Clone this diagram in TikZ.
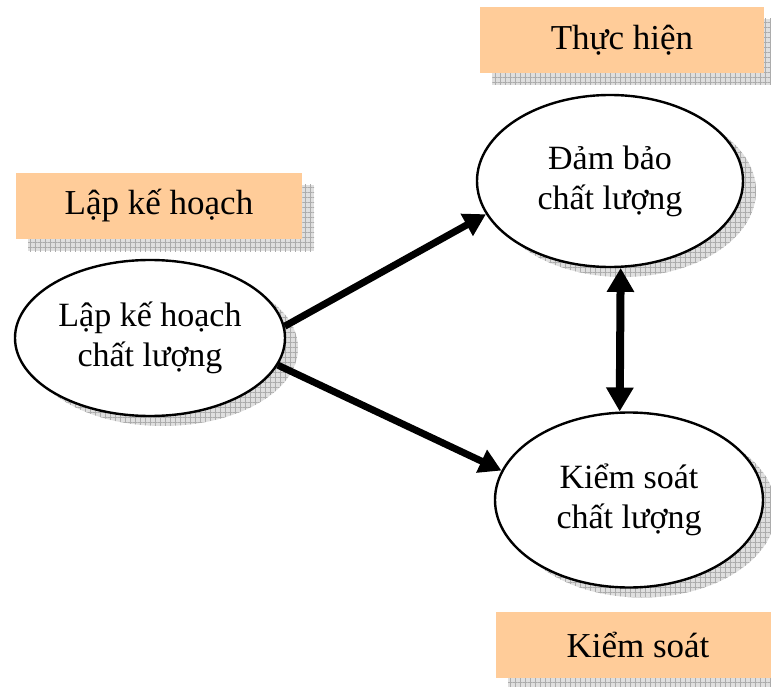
\documentclass[tikz,border=0pt]{standalone}
\usepackage{fontspec}
\setmainfont{Liberation Serif}
\usetikzlibrary{arrows.meta,shadows,patterns.meta,shapes.geometric}
\definecolor{peach}{RGB}{255,204,153}
\tikzset{
  gridshadow/.style={general shadow={shadow xshift=#1, shadow yshift=-#1,
      fill=gray!25, draw=none,
      postaction={pattern={Hatch[angle=0,distance=5pt,line width=0.5pt]},
                  pattern color=gray!65}}},
  phase/.style={rectangle, fill=peach, draw=none, inner sep=0pt,
      minimum width=284pt, minimum height=66pt,
      font=\fontsize{35}{40}\selectfont, gridshadow=12pt},
  stage/.style={ellipse, draw=black, line width=2.4pt, fill=white, inner sep=0pt,
      align=center, font=\fontsize{34}{40}\selectfont,
      general shadow={shadow xshift=13pt, shadow yshift=-10pt,
      fill=gray!25, draw=none,
      postaction={pattern={Hatch[angle=0,distance=5pt,line width=0.5pt]},
                  pattern color=gray!65}}},
  flow/.style={line width=7pt, -{Triangle[length=22pt,width=24pt]}},
  twoway/.style={line width=8pt,
      {Triangle[length=24pt,width=26pt]}-{Triangle[length=24pt,width=26pt]}}
}
\begin{document}
\begin{tikzpicture}[x=1pt,y=-1pt]
  \useasboundingbox (0,0) rectangle (771,687);
  \clip (0,0) rectangle (771,687);

  % phase labels
  \node[phase, minimum width=286pt] (plan) at (159,206) {Lập kế hoạch};
  \node[phase] (do) at (622,40) {Thực hiện};
  \node[phase] (check) at (638,645) {Kiểm soát};

  % process stages
  \node[stage, minimum width=270pt, minimum height=156pt] (qp) at (150,338)
    {Lập kế hoạch\\chất lượng};
  \node[stage, minimum width=266pt, minimum height=172pt] (qa) at (610,181)
    {Đảm bảo\\chất lượng};
  \node[stage, minimum width=268pt, minimum height=175pt] (qc) at (629,500)
    {Kiểm soát\\chất lượng};

  % connectors
  \draw[flow] (qp.5) -- (qa.195);
  \draw[flow] (qp.-12) -- (qc.167);
  \draw[twoway] (qa.-83) -- (qc.96);
\end{tikzpicture}
\end{document}
